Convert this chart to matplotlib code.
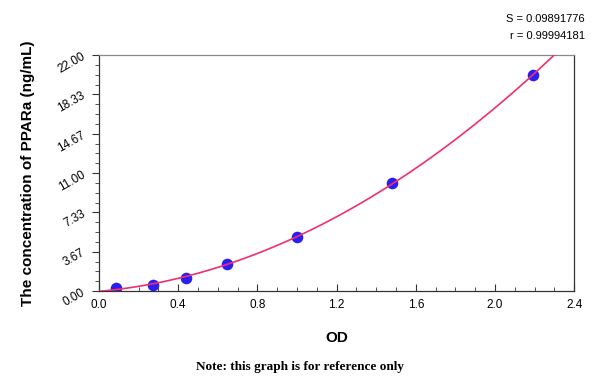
import matplotlib
matplotlib.use('Agg')
import matplotlib.pyplot as plt
import matplotlib.ticker as mticker
import numpy as np

# standard curve points
od = [0.086, 0.274, 0.44, 0.645, 1.0, 1.48, 2.19]
conc = [0.28, 0.58, 1.25, 2.52, 5.08, 10.05, 20.1]

y_ticks = [0.00, 3.67, 7.33, 11.00, 14.67, 18.33, 22.00]
x_ticks = [0.0, 0.4, 0.8, 1.2, 1.6, 2.0, 2.4]

LINE_COLOR = '#f0306a'
DOT_COLOR = '#2a1ef0'

plt.rcParams['font.family'] = ['Liberation Sans', 'DejaVu Sans']

fig = plt.figure(figsize=(6.0, 3.82), dpi=100)
ax = fig.add_axes([0.165, 0.238, 0.792, 0.618])

# fitted curve (quadratic through the standards)
coef = np.polyfit(od, conc, 2)
xs = np.linspace(0, 2.4, 300)
ax.scatter(od, conc, s=70, color=DOT_COLOR, zorder=2, linewidths=0)
ax.plot(xs, np.polyval(coef, xs), color=LINE_COLOR, linewidth=1.2, zorder=3)

ax.set_xlim(0, 2.4)
ax.set_ylim(0, 22)
ax.set_xticks(x_ticks)
ax.set_xticklabels([f"{v:.1f}" for v in x_ticks])
ax.xaxis.set_minor_locator(mticker.MultipleLocator(0.1))
ax.set_yticks(y_ticks)
ax.set_yticklabels([f"{v:.2f}" for v in y_ticks], rotation=30)
ax.yaxis.set_minor_locator(mticker.MultipleLocator(22 / 24))

ax.tick_params(axis='x', which='both', direction='in', labelsize=8.5, pad=6,
               color='#333333')
ax.tick_params(axis='x', which='major', length=5)
ax.tick_params(axis='x', which='minor', length=3)
ax.tick_params(axis='y', which='both', direction='out', labelsize=8.5,
               color='#333333')
ax.tick_params(axis='y', which='major', length=5)
ax.tick_params(axis='y', which='minor', length=3)

for side in ['left', 'bottom', 'right']:
    ax.spines[side].set_color('#333333')
    ax.spines[side].set_linewidth(0.9)
ax.spines['top'].set_color('#888888')
ax.spines['top'].set_linewidth(0.9)

ax.set_xlabel("OD", fontsize=11, fontweight='bold', labelpad=14)
ax.set_ylabel("The concentration of PPARa (ng/mL)", fontsize=11,
              fontweight='bold', labelpad=15)

fig.text(0.975, 0.95, "S = 0.09891776", ha='right', va='center', fontsize=8)
fig.text(0.975, 0.905, "r = 0.99994181", ha='right', va='center', fontsize=8)

fig.text(0.5, 0.04, "Note: this graph is for reference only", ha='center',
         va='center', fontsize=9.5, fontweight='bold',
         family=['Liberation Serif', 'DejaVu Serif'])

fig.savefig("out.png", dpi=100)
